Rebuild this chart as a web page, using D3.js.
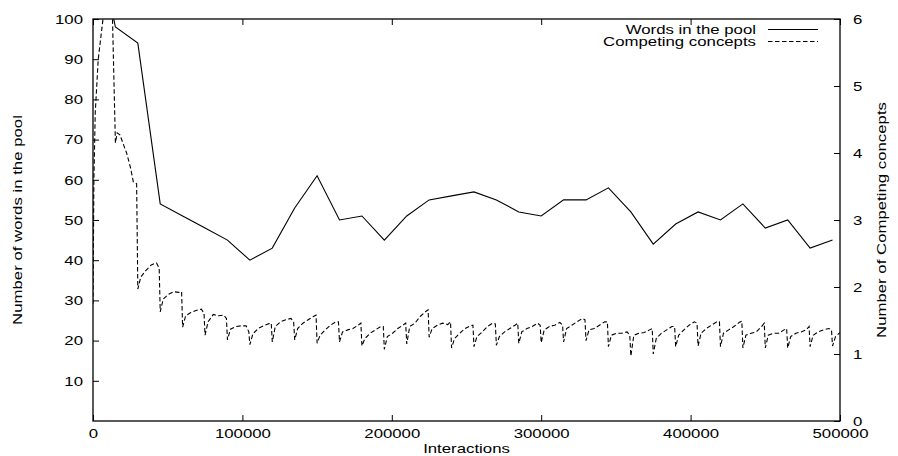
<!DOCTYPE html>
<html><head><meta charset="utf-8">
<script src="https://cdn.jsdelivr.net/npm/d3@7"></script>
<style>
body{margin:0;background:#fff}
svg text{font-family:"Liberation Sans",Arial,Helvetica,sans-serif;fill:#000}
</style>
</head><body>
<svg id="c" width="898" height="456"></svg>
<script>
// ---------- data ----------
const xTicks = [0,100000,200000,300000,400000,500000];
const leftTicks = [10,20,30,40,50,60,70,80,90,100];
const rightTicks = [0,1,2,3,4,5,6];

// Words in the pool (left axis), sampled every 15000 interactions
const wordsT = [0,15000,30000,45000,60000,75000,90000,105000,120000,135000,150000,165000,180000,195000,
  210000,225000,240000,255000,270000,285000,300000,315000,330000,345000,360000,375000,390000,405000,
  420000,435000,450000,465000,480000,495000];
const wordsV = [125,98,94,54,51,48,45,40,43,53,61,50,51,45,51,55,56,57,55,52,51,55,55,58,52,44,49,52,50,54,48,50,43,45];

// Competing concepts (right axis) - early phase
const ccEarlyT = [0,600,1500,3500,6700,9500,12000,15000,16200,18000,22500,25000,27000,29200];
const ccEarlyV = [1.75,3.6,4.6,5.4,6.0,6.6,7.0,4.15,4.3,4.27,4.0,3.79,3.57,3.54];
// Competing concepts - sawtooth blocks of 15000 interactions, values at offsets inside each block
const ccBlockStart = [30000,45000,60000,75000,90000,105000,120000,135000,150000,165000,180000,195000,
  210000,225000,240000,255000,270000,285000,300000,315000,330000,345000,360000,375000,390000,405000,
  420000,435000,450000,465000,480000,495000];
const ccOffsets = [0,2000,5500,9000,12500,14300];
const ccBlocks = [
  [1.97,2.15,2.25,2.33,2.36,2.28],
  [1.63,1.82,1.89,1.93,1.92,1.93],
  [1.40,1.57,1.62,1.65,1.67,1.61],
  [1.28,1.48,1.59,1.57,1.58,1.53],
  [1.21,1.37,1.41,1.42,1.42,1.33],
  [1.14,1.30,1.38,1.42,1.45,1.46],
  [1.18,1.41,1.48,1.51,1.53,1.48],
  [1.21,1.38,1.46,1.51,1.56,1.58],
  [1.16,1.28,1.36,1.43,1.48,1.48],
  [1.18,1.33,1.36,1.38,1.43,1.46],
  [1.12,1.23,1.31,1.36,1.41,1.41],
  [1.07,1.26,1.31,1.38,1.43,1.46],
  [1.15,1.41,1.46,1.56,1.63,1.66],
  [1.25,1.38,1.43,1.46,1.44,1.48],
  [1.09,1.23,1.31,1.38,1.42,1.43],
  [1.11,1.26,1.33,1.41,1.46,1.45],
  [1.13,1.26,1.33,1.38,1.43,1.46],
  [1.16,1.33,1.38,1.41,1.46,1.43],
  [1.17,1.36,1.41,1.43,1.47,1.43],
  [1.18,1.38,1.43,1.48,1.53,1.51],
  [1.20,1.36,1.38,1.43,1.48,1.48],
  [1.11,1.28,1.31,1.31,1.33,1.28],
  [0.97,1.28,1.31,1.32,1.36,1.38],
  [1.00,1.23,1.31,1.36,1.41,1.41],
  [1.11,1.28,1.36,1.43,1.48,1.46],
  [1.12,1.31,1.38,1.43,1.48,1.48],
  [1.11,1.31,1.36,1.41,1.47,1.49],
  [1.09,1.28,1.31,1.33,1.41,1.46],
  [1.09,1.28,1.31,1.31,1.36,1.38],
  [1.09,1.26,1.31,1.33,1.36,1.41],
  [1.11,1.28,1.33,1.36,1.38,1.36],
  [1.12,1.26]
];
const ccEndT = [500000];
const ccEndV = [1.32];

const seriesNames = ["Words in the pool","Competing concepts"];

// ---------- layout ----------
const m = {l:93, r:840, t:19, b:421};
const SX = 1.4;           // horizontal stretch of the glyphs
const FS = 12;
const svg = d3.select("#c");

const x  = d3.scaleLinear().domain([0,500000]).range([m.l,m.r]);
const yL = d3.scaleLinear().domain([0,100]).range([m.b,m.t]);
const yR = d3.scaleLinear().domain([0,6]).range([m.b,m.t]);

svg.append("clipPath").attr("id","clip").append("rect")
  .attr("x",m.l).attr("y",m.t).attr("width",m.r-m.l).attr("height",m.b-m.t);

function styleAxis(g){
  g.select(".domain").remove();
  g.attr("font-size",FS).attr("font-family",null);
  g.selectAll("line").attr("stroke","#000").attr("stroke-width",1);
}

// bottom axis
svg.append("g").attr("transform",`translate(0,${m.b})`)
  .call(d3.axisBottom(x).tickValues(xTicks).tickSizeInner(-6).tickSizeOuter(0).tickFormat(d3.format("d")))
  .call(styleAxis)
  .call(g=>g.selectAll("text").attr("y",8).attr("dy","0.71em").attr("transform",`scale(${SX},1)`));
// top mirror ticks
svg.append("g").attr("transform",`translate(0,${m.t})`)
  .call(d3.axisTop(x).tickValues(xTicks).tickSizeInner(-6).tickSizeOuter(0).tickFormat(""))
  .call(styleAxis)
  .call(g=>g.selectAll("text").remove());
// left axis
svg.append("g").attr("transform",`translate(${m.l},0)`)
  .call(d3.axisLeft(yL).tickValues(leftTicks).tickSizeInner(-6).tickSizeOuter(0).tickFormat(d3.format("d")))
  .call(styleAxis)
  .call(g=>g.selectAll("text").attr("x",-10/SX).attr("dy","0.36em").attr("transform",`scale(${SX},1)`));
// right axis
svg.append("g").attr("transform",`translate(${m.r},0)`)
  .call(d3.axisRight(yR).tickValues(rightTicks).tickSizeInner(-6).tickSizeOuter(0).tickFormat(d3.format("d")))
  .call(styleAxis)
  .call(g=>g.selectAll("text").attr("x",13/SX).attr("dy","0.36em").attr("transform",`scale(${SX},1)`));

// titles
svg.append("text").attr("font-size",FS).attr("text-anchor","middle")
  .attr("transform",`translate(${(m.l+m.r)/2},453) scale(${SX},1)`).text("Interactions");
svg.append("text").attr("font-size",FS).attr("text-anchor","middle")
  .attr("transform",`translate(22,220) rotate(-90) scale(${SX},1)`).text("Number of words in the pool");
svg.append("text").attr("font-size",FS).attr("text-anchor","middle")
  .attr("transform",`translate(886,220) rotate(-90) scale(${SX},1)`).text("Number of Competing concepts");

// ---------- series ----------
const wordsData = wordsT.map((t,i)=>[t,wordsV[i]]);
const ccData = ccEarlyT.map((t,i)=>[t,ccEarlyV[i]]);
ccBlocks.forEach((blk,bi)=>blk.forEach((v,j)=>ccData.push([ccBlockStart[bi]+ccOffsets[j],v])));
ccEndT.forEach((t,i)=>ccData.push([t,ccEndV[i]]));

const plot = svg.append("g").attr("clip-path","url(#clip)");
plot.append("path").datum(wordsData)
  .attr("fill","none").attr("stroke","#000").attr("stroke-width",1.1)
  .attr("d",d3.line().x(d=>x(d[0])).y(d=>yL(d[1])));
plot.append("path").datum(ccData)
  .attr("fill","none").attr("stroke","#000").attr("stroke-width",1.1).attr("stroke-dasharray","4.5,2.5")
  .attr("d",d3.line().x(d=>x(d[0])).y(d=>yR(d[1])));

// border
svg.append("rect").attr("x",m.l).attr("y",m.t).attr("width",m.r-m.l).attr("height",m.b-m.t)
  .attr("fill","none").attr("stroke","#000").attr("stroke-width",1.3);

// legend
const leg = svg.append("g");
const legY = [33.5,45.5];
seriesNames.forEach((name,i)=>{
  leg.append("text").attr("font-size",FS).attr("text-anchor","end")
    .attr("transform",`translate(756,${legY[i]}) scale(${SX},1)`).text(name);
  leg.append("line").attr("x1",768).attr("x2",818).attr("y1",legY[i]-4).attr("y2",legY[i]-4)
    .attr("stroke","#000").attr("stroke-width",1.1)
    .attr("stroke-dasharray", i===1 ? "4.5,2.5" : null);
});
</script>
</body></html>
